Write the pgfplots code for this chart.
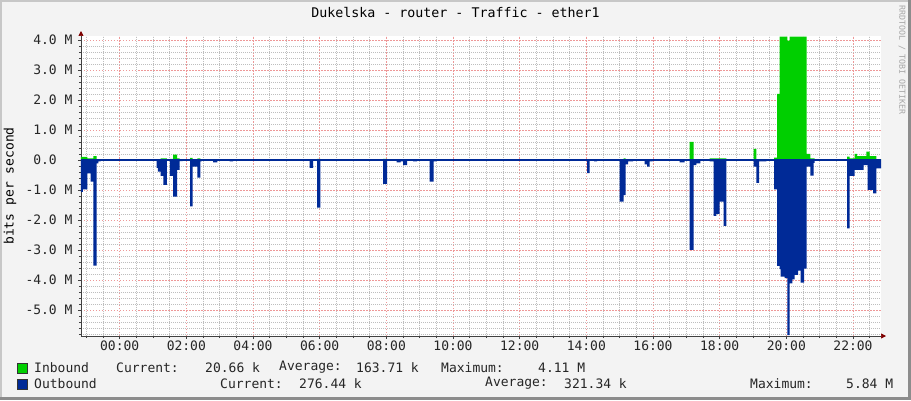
\documentclass[border=0pt]{standalone}
\usepackage{pgfplots}
\pgfplotsset{compat=1.18}
\usepackage{pgfplotstable}
\usepackage{fontspec}
\setmainfont{DejaVu Sans Mono}
\usetikzlibrary{arrows.meta}
\definecolor{inb}{HTML}{00CF00}
\definecolor{outb}{HTML}{002A97}
\definecolor{bgc}{HTML}{F3F3F3}
\definecolor{mgrid}{HTML}{EE9898}
\definecolor{ngrid}{HTML}{BEBEBE}
\definecolor{arrowred}{HTML}{7F0000}
\definecolor{axc}{HTML}{404040}

\pgfplotstableread{
h v
-1.16 0.10
-0.97 0.05
-0.79 0.13
-0.69 0.02
-0.57 0
1.11 0.03
1.23 0.05
1.42 0
1.51 0.04
1.60 0.18
1.72 0.05
1.80 0
2.11 0.07
2.19 0
2.33 0.05
2.42 0
5.92 0.04
6.02 0
7.90 0.04
8.02 0
15.00 0.03
15.12 0.05
15.18 0
17.10 0.60
17.22 0.03
17.42 0
17.70 0.05
18.20 0
19.02 0.37
19.10 0.03
19.40 0
19.63 0.08
19.72 2.20
19.80 4.11
20.03 3.98
20.10 4.11
20.61 0.20
20.72 0.05
20.85 0
21.82 0.11
21.90 0.05
22.05 0.20
22.12 0.13
22.40 0.28
22.50 0.13
22.70 0.03
22.84 0.03
}\inbound

\pgfplotstableread{
h v
-1.16 -1.06
-1.10 -0.98
-0.97 -0.45
-0.87 -0.72
-0.79 -3.52
-0.69 -0.11
-0.64 -0.05
-0.57 0
1.11 -0.26
1.15 -0.39
1.23 -0.53
1.31 -0.83
1.42 0
1.51 -0.53
1.60 -1.22
1.72 -0.33
1.80 -0.04
1.89 0
2.11 -1.55
2.19 -0.22
2.33 -0.59
2.42 -0.05
2.46 0
2.80 -0.08
2.93 0
3.30 -0.05
3.40 0
5.70 -0.26
5.80 0
5.92 -1.59
6.02 0
7.90 -0.80
8.02 0
8.31 -0.08
8.43 -0.05
8.50 -0.17
8.62 0
8.80 -0.05
8.92 0
9.30 -0.72
9.42 -0.05
9.50 0
14.02 -0.44
14.10 0
14.23 -0.05
14.32 0
15.00 -1.39
15.12 -1.17
15.18 -0.15
15.25 -0.05
15.40 0
15.75 -0.15
15.82 -0.22
15.90 -0.05
15.99 0
16.80 -0.08
16.95 0
17.10 -3.00
17.22 -0.17
17.30 -0.11
17.42 0
17.70 -0.05
17.82 -1.86
17.90 -1.80
18.00 -1.39
18.12 -2.20
18.20 0
19.02 -0.22
19.10 -0.76
19.18 -0.05
19.40 0
19.63 -0.98
19.72 -3.53
19.80 -3.64
19.83 -3.89
19.95 -3.94
20.03 -5.84
20.10 -4.11
20.18 -3.98
20.25 -3.83
20.35 -3.69
20.43 -4.09
20.53 -3.62
20.61 -0.22
20.72 -0.52
20.82 -0.10
20.85 0
21.82 -2.28
21.90 -0.53
22.05 -0.33
22.32 -0.17
22.44 -1.00
22.60 -1.11
22.70 -0.28
22.84 -0.28
}\outbound

\begin{document}
\begin{tikzpicture}
\begin{scope}[x=1pt,y=-1pt,yshift=400pt]
\fill[bgc] (0,0) rectangle (911,400);
\fill[black!22] (0,0) rectangle (911,2);
\fill[black!22] (0,0) rectangle (2,400);
\fill[black!45] (0,397) rectangle (911,400);
\fill[black!45] (908,0) rectangle (911,400);
\fill[white] (81,36) rectangle (881,336);
\end{scope}
\begin{axis}[
  at={(81pt,64pt)}, anchor=south west,
  scale only axis, width=800pt, height=300pt,
  xmin=-1.16, xmax=22.84, ymin=-5.867, ymax=4.133,
  axis x line=bottom, axis y line=left,
  axis line style={draw=axc, line width=0.7pt},
  x axis line style={-{Triangle[length=5pt,width=5pt,color=arrowred]}, shorten >=-5pt},
  y axis line style={-{Triangle[length=5pt,width=5pt,color=arrowred]}, shorten >=-5pt},
  xtick={0,2,...,22},
  xticklabels={00:00,02:00,04:00,06:00,08:00,10:00,12:00,14:00,16:00,18:00,20:00,22:00},
  minor xtick={-1,-0.5,0.5,1,1.5,2.5,3,3.5,4.5,5,5.5,6.5,7,7.5,8.5,9,9.5,10.5,11,11.5,12.5,13,13.5,14.5,15,15.5,16.5,17,17.5,18.5,19,19.5,20.5,21,21.5,22.5},
  ytick={-5,-4,-3,-2,-1,1,2,3,4},
  yticklabels={-5.0 M,-4.0 M,-3.0 M,-2.0 M,-1.0 M,1.0 M,2.0 M,3.0 M,4.0 M},
  extra y ticks={0},
  extra y tick labels={0.0\hphantom{\ M}},
  extra y tick style={grid=none},
  minor ytick={-5.8,-5.6,-5.4,-5.2,-4.8,-4.6,-4.4,-4.2,-3.8,-3.6,-3.4,-3.2,-2.8,-2.6,-2.4,-2.2,-1.8,-1.6,-1.4,-1.2,-0.8,-0.6,-0.4,-0.2,0.2,0.4,0.6,0.8,1.2,1.4,1.6,1.8,2.2,2.4,2.6,2.8,3.2,3.4,3.6,3.8},
  xmajorgrids=true, ymajorgrids=true, xminorgrids=true, yminorgrids=true,
  major grid style={draw=mgrid, dash pattern=on 1.5pt off 1.5pt, line width=0.7pt},
  minor grid style={draw=ngrid, dash pattern=on 1pt off 1pt, line width=0.6pt},
  tick align=outside, major tick length=3pt, minor tick length=2pt,
  major tick style={draw=axc, line width=0.5pt},
  minor tick style={draw=axc, line width=0.5pt},
  ticklabel style={font=\fontsize{13}{15}\selectfont, text=black!85},
  xticklabel style={yshift=1.5pt},
  yticklabel style={xshift=-2pt},
  title={Dukelska - router - Traffic - ether1},
  title style={at={(axis description cs:0.5,1)}, anchor=center, yshift=17pt, xshift=-25.5pt, font=\fontsize{13.3}{15}\selectfont},
  ylabel={bits per second},
  every axis y label/.style={at={(axis description cs:0,0.5)}, anchor=center, rotate=90, yshift=71pt, font=\fontsize{13}{15}\selectfont},
  clip=true,
]
\addplot[const plot, fill=inb, draw=none] table[x=h, y=v] {\inbound} \closedcycle;
\addplot[const plot, fill=outb, draw=none] table[x=h, y=v] {\outbound} \closedcycle;
\addplot[outb, line width=1.1pt] coordinates {(-1.16,0) (22.84,0)};
\end{axis}
\begin{scope}[x=1pt,y=-1pt,yshift=400pt, every node/.style={inner sep=0pt, anchor=west, font=\fontsize{13}{15}\selectfont, text=black!85}]
\node[anchor=center, rotate=-90, font=\fontsize{8.3}{9}\selectfont, text=black!35] at (902,60) {RRDTOOL / TOBI OETIKER};
\filldraw[fill=inb, draw=black!80, line width=0.6pt] (17.5,363) rectangle (27.5,373);
\filldraw[fill=outb, draw=black!80, line width=0.6pt] (17.5,379) rectangle (27.5,389);
\node at (34,367.5) {Inbound};
\node at (116,367.5) {Current:};
\node at (205,367.5) {20.66 k};
\node at (279,367.5) {Average:};
\node at (356,367.5) {163.71 k};
\node at (441,367.5) {Maximum:};
\node at (538,367.5) {4.11 M};
\node at (34,383.5) {Outbound};
\node at (220,383.5) {Current:};
\node at (299,383.5) {276.44 k};
\node at (485,383.5) {Average:};
\node at (564,383.5) {321.34 k};
\node at (750,383.5) {Maximum:};
\node at (846,383.5) {5.84 M};
\end{scope}
\end{tikzpicture}
\end{document}
